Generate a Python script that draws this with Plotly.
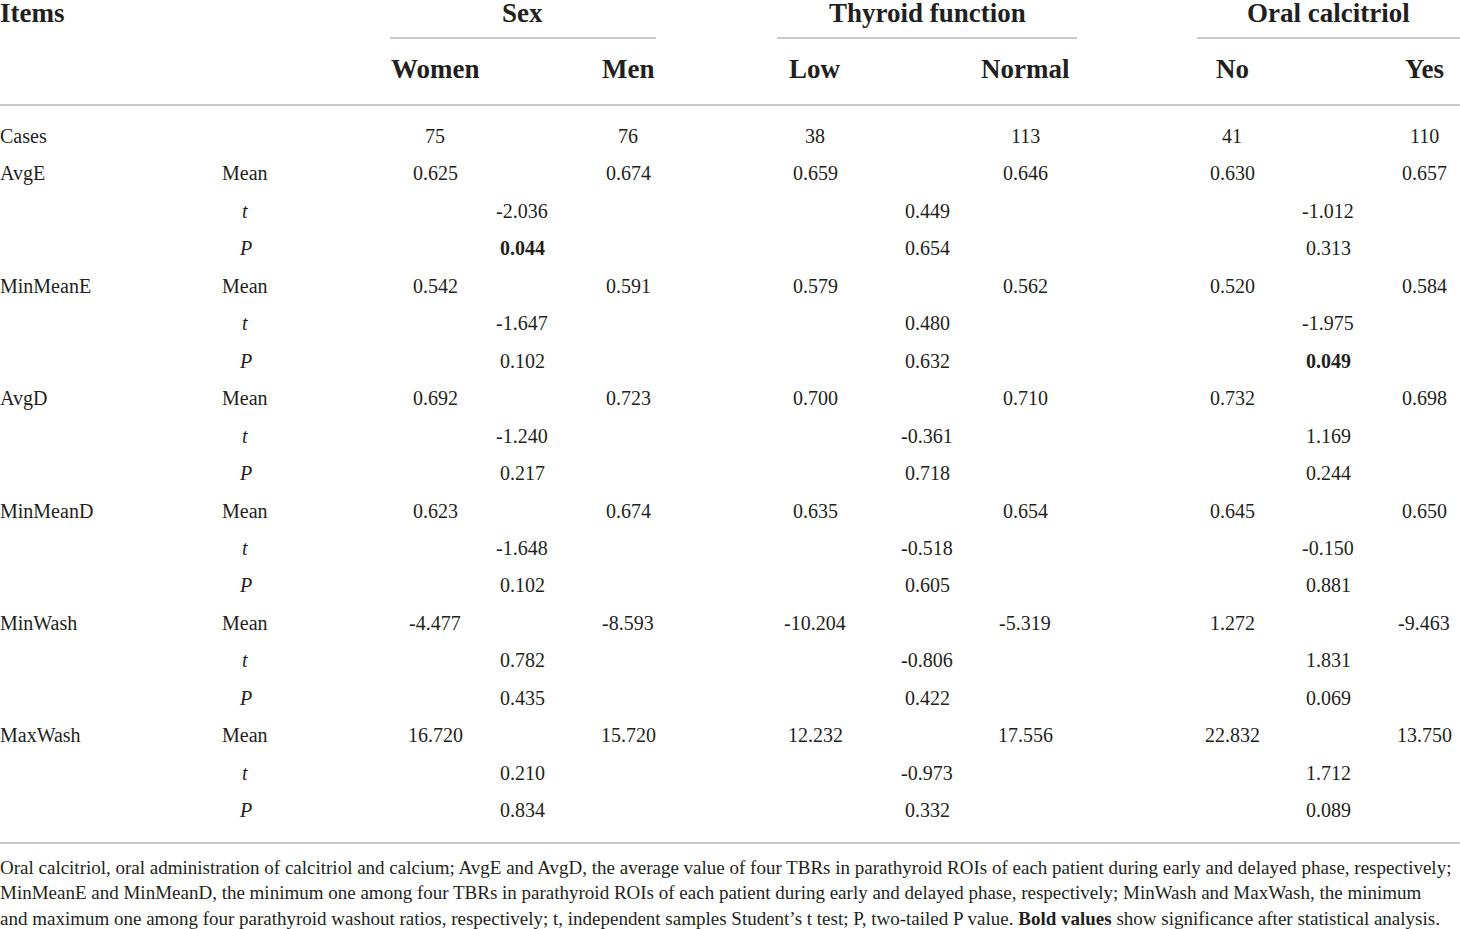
import plotly.graph_objects as go

# ---------------- data ----------------
groups = ["Sex", "Thyroid function", "Oral calcitriol"]
subgroups = [["Women", "Men"], ["Low", "Normal"], ["No", "Yes"]]
cases = [75, 76, 38, 113, 41, 110]
items = ["AvgE", "MinMeanE", "AvgD", "MinMeanD", "MinWash", "MaxWash"]

# group means: [Women, Men, Low, Normal, No, Yes]
means = {
    "AvgE":     [0.625, 0.674, 0.659, 0.646, 0.630, 0.657],
    "MinMeanE": [0.542, 0.591, 0.579, 0.562, 0.520, 0.584],
    "AvgD":     [0.692, 0.723, 0.700, 0.710, 0.732, 0.698],
    "MinMeanD": [0.623, 0.674, 0.635, 0.654, 0.645, 0.650],
    "MinWash":  [-4.477, -8.593, -10.204, -5.319, 1.272, -9.463],
    "MaxWash":  [16.720, 15.720, 12.232, 17.556, 22.832, 13.750],
}
# t statistic per comparison: [Sex, Thyroid, Calcitriol]
t_vals = {
    "AvgE":     [-2.036, 0.449, -1.012],
    "MinMeanE": [-1.647, 0.480, -1.975],
    "AvgD":     [-1.240, -0.361, 1.169],
    "MinMeanD": [-1.648, -0.518, -0.150],
    "MinWash":  [0.782, -0.806, 1.831],
    "MaxWash":  [0.210, -0.973, 1.712],
}
p_vals = {
    "AvgE":     [0.044, 0.654, 0.313],
    "MinMeanE": [0.102, 0.632, 0.049],
    "AvgD":     [0.217, 0.718, 0.244],
    "MinMeanD": [0.102, 0.605, 0.881],
    "MinWash":  [0.435, 0.422, 0.069],
    "MaxWash":  [0.834, 0.332, 0.089],
}
footnote = [
    "Oral calcitriol, oral administration of calcitriol and calcium; AvgE and AvgD, the average value of four TBRs in parathyroid ROIs of each patient during early and delayed phase, respectively;",
    "MinMeanE and MinMeanD, the minimum one among four TBRs in parathyroid ROIs of each patient during early and delayed phase, respectively; MinWash and MaxWash, the minimum",
    "and maximum one among four parathyroid washout ratios, respectively; t, independent samples Student\u2019s t test; P, two-tailed P value. <b>Bold values</b> show significance after statistical analysis.",
]

# ---------------- layout ----------------
W, H = 1460, 929
FONT = "Liberation Serif"
TXT = "#231f20"
LINE = "#c9c9c9"

val_x = [435, 628, 815, 1025, 1232, 1424]
mid_x = [522, 927, 1328]
line_spans = [(390, 656), (777, 1077), (1197, 1460)]
sub_x = 245
row0 = 136
dy = 37.45

fig = go.Figure()
fig.add_trace(go.Scatter(x=[0, W], y=[0, H], mode="markers",
                         marker=dict(opacity=0), hoverinfo="skip", showlegend=False))

ann = []

def add(x, y, text, size=20, anchor="center", bold=False):
    if bold:
        text = f"<b>{text}</b>"
    ann.append(dict(x=x, y=y, xref="x", yref="y", text=text, showarrow=False,
                    xanchor=anchor, yanchor="middle",
                    xshift=-2 if anchor == "left" else 0,
                    font=dict(family=FONT, size=size, color=TXT)))

# headers
add(0, 13, "Items", size=27, anchor="left", bold=True)
for g, mx in zip(groups, mid_x):
    add(mx, 13, g, size=27, bold=True)
for i, subs in enumerate(subgroups):
    for j, s in enumerate(subs):
        add(val_x[2 * i + j], 69, s, size=27, bold=True)

# cases row
add(0, row0, "Cases", anchor="left")
for c, x in zip(cases, val_x):
    add(x, row0, str(c))

# item rows
for k, it in enumerate(items):
    y_mean = row0 + dy * (1 + 3 * k)
    y_t = y_mean + dy
    y_p = y_mean + 2 * dy
    add(0, y_mean, it, anchor="left")
    add(sub_x, y_mean, "Mean")
    add(sub_x, y_t, "<i>t</i>")
    add(sub_x, y_p, "<i>P</i>")
    for v, x in zip(means[it], val_x):
        add(x, y_mean, f"{v:.3f}")
    for v, x in zip(t_vals[it], mid_x):
        add(x, y_t, f"{v:.3f}")
    for v, x in zip(p_vals[it], mid_x):
        add(x, y_p, f"{v:.3f}", bold=(v < 0.05))

# footnote
for i, line in enumerate(footnote):
    add(0, 867 + 25.5 * i, line, size=19, anchor="left")

shapes = []
for x0, x1 in line_spans:
    shapes.append(dict(type="line", xref="x", yref="y", x0=x0, x1=x1, y0=38, y1=38,
                       line=dict(color=LINE, width=2)))
shapes.append(dict(type="line", xref="x", yref="y", x0=0, x1=W, y0=105, y1=105,
                   line=dict(color=LINE, width=2)))
shapes.append(dict(type="line", xref="x", yref="y", x0=0, x1=W, y0=843, y1=843,
                   line=dict(color=LINE, width=2)))

fig.update_layout(
    width=W, height=H,
    margin=dict(l=0, r=0, t=0, b=0),
    paper_bgcolor="white", plot_bgcolor="white",
    xaxis=dict(range=[0, W], visible=False, fixedrange=True),
    yaxis=dict(range=[H, 0], visible=False, fixedrange=True),
    annotations=ann, shapes=shapes,
    showlegend=False,
)

fig.write_html(
    "out.html",
    config={"displayModeBar": False},
    post_script="document.body.style.margin='0';document.body.style.overflow='hidden';",
)
